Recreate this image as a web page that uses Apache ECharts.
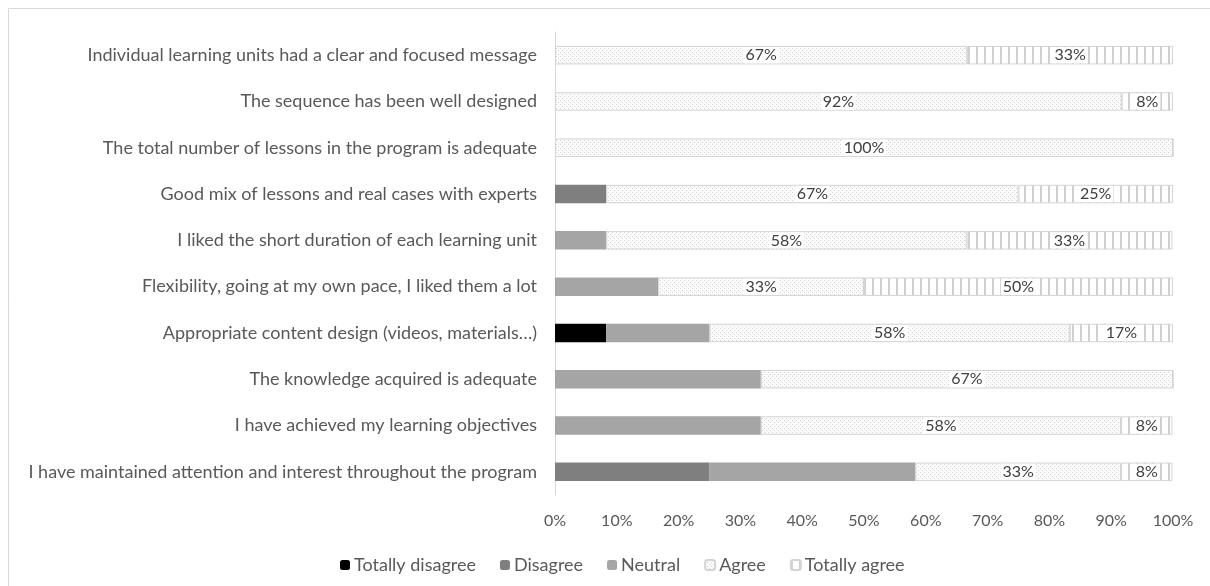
<!DOCTYPE html>
<html>
<head>
<meta charset="utf-8">
<script src="https://cdn.jsdelivr.net/npm/echarts@6/dist/echarts.min.js"></script>
<style>
  html, body { margin: 0; padding: 0; background: #fff; }
  #chart { width: 1210px; height: 586px; }
</style>
</head>
<body>
<div id="chart"></div>
<script>
// survey statements, top to bottom
var categories = [
  "Individual learning units had a clear and focused message",
  "The sequence has been well designed",
  "The total number of lessons in the program is adequate",
  "Good mix of lessons and real cases with experts",
  "I liked the short duration of each learning unit",
  "Flexibility, going at my own pace, I liked them a lot",
  "Appropriate content design (videos, materials…)",
  "The knowledge acquired is adequate",
  "I have achieved my learning objectives",
  "I have maintained attention and interest throughout the program"
];
var totallyDisagree = [0, 0, 0, 0, 0, 0, 8.3, 0, 0, 0];
var disagree        = [0, 0, 0, 8.3, 0, 0, 0, 0, 0, 25];
var neutral         = [0, 0, 0, 0, 8.3, 16.7, 16.7, 33.3, 33.3, 33.3];
var agree           = [66.7, 91.7, 100, 66.7, 58.3, 33.3, 58.3, 66.7, 58.3, 33.3];
var totallyAgree    = [33.3, 8.3, 0, 25, 33.3, 50, 16.7, 0, 8.3, 8.3];
var xTicks = [0, 10, 20, 30, 40, 50, 60, 70, 80, 90, 100];

// fill patterns like the excel ones
function dotPattern() {
  var c = document.createElement("canvas");
  c.width = 4; c.height = 4;
  var g = c.getContext("2d");
  g.fillStyle = "#fbfbfb";
  g.fillRect(0, 0, 4, 4);
  g.fillStyle = "#d2d2d2";
  g.fillRect(0, 0, 1, 1);
  g.fillRect(2, 2, 1, 1);
  return c;
}
function linePattern() {
  var c = document.createElement("canvas");
  c.width = 8; c.height = 8;
  var g = c.getContext("2d");
  g.fillStyle = "#ffffff";
  g.fillRect(0, 0, 8, 8);
  g.fillStyle = "#cfcfcf";
  g.fillRect(0, 0, 2, 8);
  return c;
}

var font = "Lato";
var labelStyle = {
  show: true,
  position: "inside",
  color: "#404040",
  fontFamily: font,
  fontSize: 16,
  backgroundColor: "#fff",
  padding: [0, 2],
  formatter: function (p) {
    return p.value > 0 ? Math.round(p.value) + "%" : "";
  }
};

function makeSeries(name, data, color, withLabel, border) {
  return {
    name: name,
    type: "bar",
    stack: "total",
    barWidth: "40%",
    data: data,
    itemStyle: {
      color: color,
      borderColor: border ? "#d4d4d4" : null,
      borderWidth: border ? 1 : 0
    },
    label: withLabel ? labelStyle : { show: false },
    emphasis: { disabled: true }
  };
}

var myChart = echarts.init(document.getElementById("chart"));
myChart.setOption({
  animation: false,
  textStyle: { fontFamily: font },
  graphic: [{
    type: "rect",
    shape: { x: 8.5, y: 8.5, width: 1400, height: 800 },
    style: { fill: null, stroke: "#d9d9d9", lineWidth: 1 },
    silent: true
  }],
  grid: { left: 555, right: 37, top: 32, bottom: 91, containLabel: false },
  legend: {
    bottom: 7,
    left: 335,
    itemWidth: 10,
    itemHeight: 10,
    itemGap: 24,
    textStyle: { color: "#595959", fontSize: 18, fontFamily: font, padding: [0, 0, 0, -1] },
    data: ["Totally disagree", "Disagree", "Neutral", "Agree", "Totally agree"]
  },
  xAxis: {
    type: "value",
    min: 0,
    max: 100,
    interval: 10,
    axisLine: { show: false },
    axisTick: { show: false },
    splitLine: { show: false },
    axisLabel: {
      color: "#595959",
      fontSize: 16,
      margin: 18,
      formatter: function (v) { return xTicks.indexOf(v) >= 0 ? v + "%" : ""; }
    }
  },
  yAxis: {
    type: "category",
    inverse: true,
    data: categories,
    axisLine: { lineStyle: { color: "#d9d9d9", width: 1 } },
    axisTick: { show: false },
    axisLabel: { color: "#595959", fontSize: 18, margin: 18 }
  },
  series: [
    makeSeries("Totally disagree", totallyDisagree, "#000000", false, false),
    makeSeries("Disagree", disagree, "#7f7f7f", false, false),
    makeSeries("Neutral", neutral, "#a5a5a5", false, false),
    makeSeries("Agree", agree, { image: dotPattern(), repeat: "repeat" }, true, true),
    makeSeries("Totally agree", totallyAgree, { image: linePattern(), repeat: "repeat" }, true, true)
  ]
});
</script>
</body>
</html>
